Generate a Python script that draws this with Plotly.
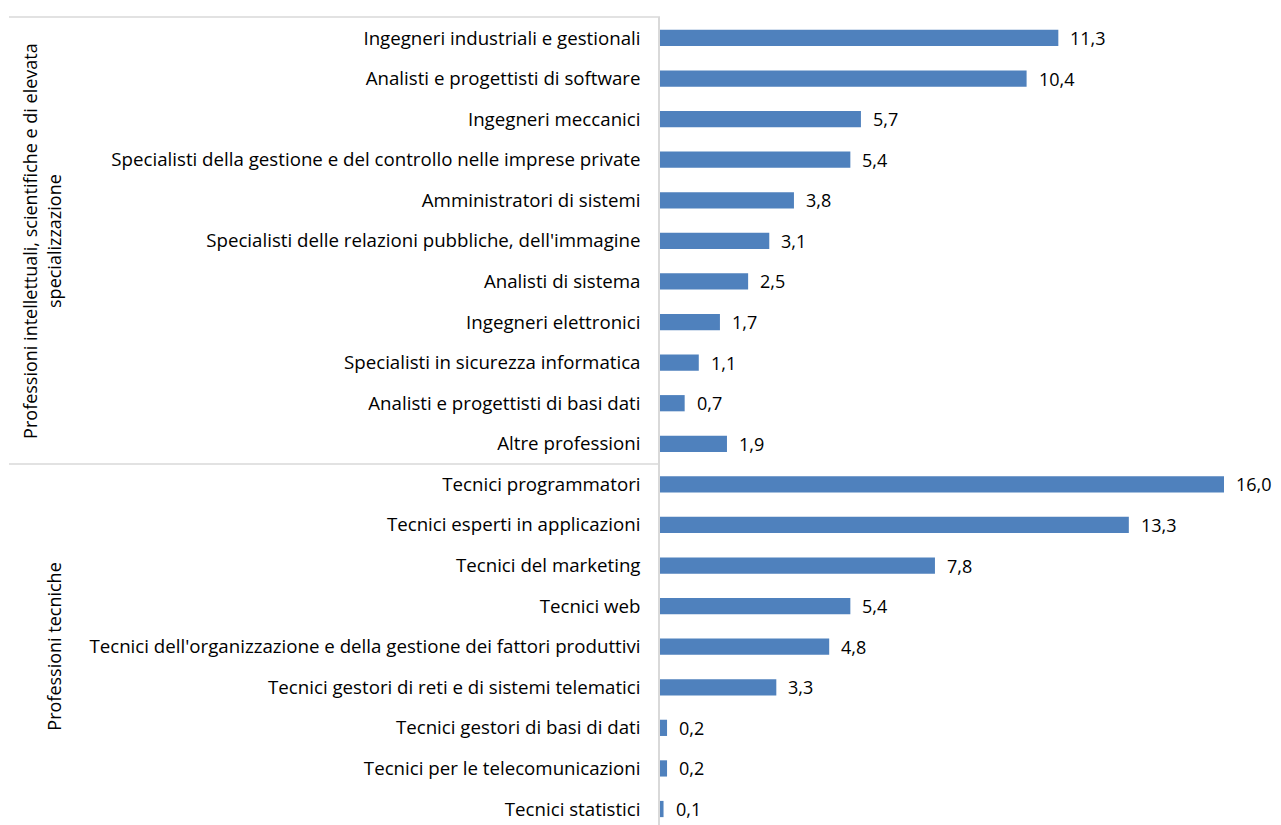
import plotly.graph_objects as go

categories = [
    "Ingegneri industriali e gestionali",
    "Analisti e progettisti di software",
    "Ingegneri meccanici",
    "Specialisti della gestione e del controllo nelle imprese private",
    "Amministratori di sistemi",
    "Specialisti delle relazioni pubbliche, dell'immagine",
    "Analisti di sistema",
    "Ingegneri elettronici",
    "Specialisti in sicurezza informatica",
    "Analisti e progettisti di basi dati",
    "Altre professioni",
    "Tecnici programmatori",
    "Tecnici esperti in applicazioni",
    "Tecnici del marketing",
    "Tecnici web",
    "Tecnici dell'organizzazione e della gestione dei fattori produttivi",
    "Tecnici gestori di reti e di sistemi telematici",
    "Tecnici gestori di basi di dati",
    "Tecnici per le telecomunicazioni",
    "Tecnici statistici",
]
values = [11.3, 10.4, 5.7, 5.4, 3.8, 3.1, 2.5, 1.7, 1.1, 0.7, 1.9,
          16.0, 13.3, 7.8, 5.4, 4.8, 3.3, 0.2, 0.2, 0.1]
groups = ["Professioni intellettuali, scientifiche e di elevata<br>specializzazione",
          "Professioni tecniche"]
group_sizes = [11, 9]

W, H = 1281, 825
L, T = 660, 17
FONT = "Open Sans"
FS = 18.7
idx = list(range(len(categories)))

fig = go.Figure(go.Bar(
    x=values, y=idx, orientation="h", width=0.4,
    marker=dict(color="#4f81bd", line=dict(width=0)),
    hoverinfo="skip",
))

for i, v in zip(idx, values):
    fig.add_annotation(x=v, y=i, text=f"{v:.1f}".replace(".", ","),
                       showarrow=False, xanchor="left", xshift=10,
                       font=dict(family=FONT, size=18, color="#000"))

plot_w = W - L
def px2paper(px):
    return (px - L) / plot_w

# top line and separator
fig.add_shape(type="line", xref="paper", yref="paper", x0=px2paper(9), x1=0, y0=1, y1=1,
              line=dict(color="#d9d9d9", width=1.5))
fig.add_shape(type="line", xref="paper", yref="y", x0=px2paper(9), x1=0,
              y0=group_sizes[0] - 0.5, y1=group_sizes[0] - 0.5,
              line=dict(color="#d9d9d9", width=1.5))

# group labels
start = 0
gx = [px2paper(42), px2paper(54)]
for g, n, xx in zip(groups, group_sizes, gx):
    fig.add_annotation(x=xx, xref="paper", y=start + (n - 1) / 2, yref="y",
                       xanchor="center", yanchor="middle",
                       text=g, textangle=-90, showarrow=False,
                       font=dict(family=FONT, size=18, color="#000"))
    start += n

fig.update_layout(
    width=W, height=H, margin=dict(l=L, r=0, t=T, b=0),
    paper_bgcolor="white", plot_bgcolor="white", showlegend=False,
    font=dict(family=FONT, size=FS, color="#000"),
    xaxis=dict(range=[0, plot_w / 35.25], visible=False, showgrid=False, zeroline=False),
    yaxis=dict(range=[19.394, -0.517], tickvals=idx, ticktext=categories,
               showline=True, linecolor="#d9d9d9", linewidth=1.5,
               ticks="", showgrid=False, zeroline=False,
               ticklabelstandoff=14, tickfont=dict(family=FONT, size=FS, color="#000")),
)

fig.write_html("out.html", config={"displayModeBar": False},
               post_script="document.body.style.margin='0px';")
